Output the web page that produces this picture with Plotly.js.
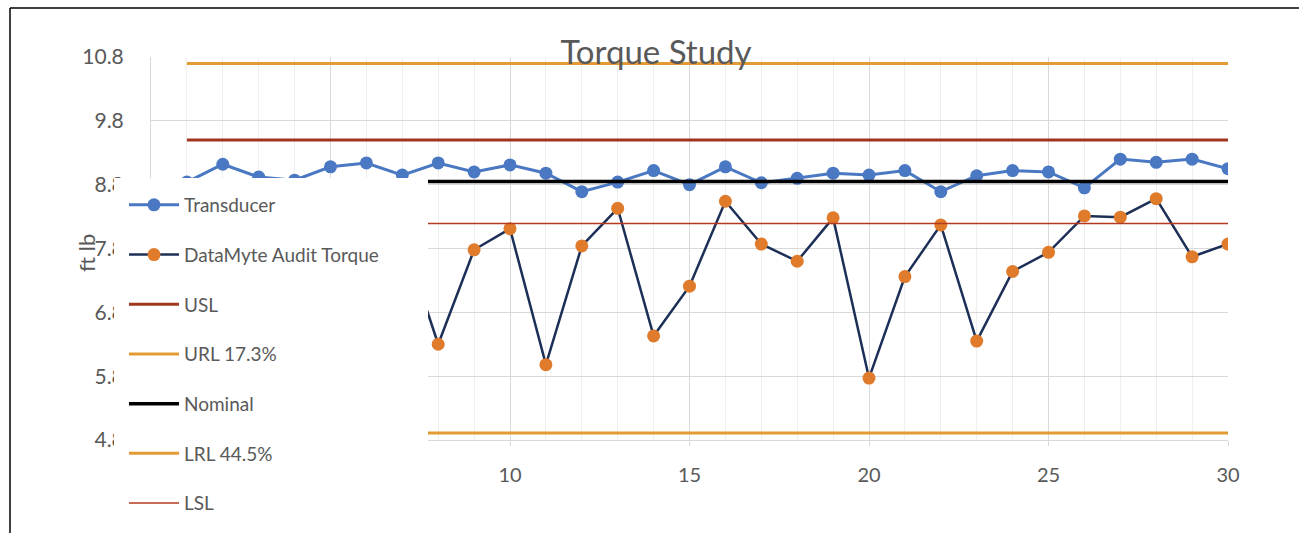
<!DOCTYPE html>
<html>
<head>
<meta charset="utf-8">
<script src="https://cdn.plot.ly/plotly-3.0.1.min.js"></script>
<style>
  html, body { margin: 0; padding: 0; background: #ffffff; }
  #chart { width: 1299px; height: 533px; }
</style>
</head>
<body>
<div id="chart"></div>
<script>
// ---- data ----
const samples = [1,2,3,4,5,6,7,8,9,10,11,12,13,14,15,16,17,18,19,20,21,22,23,24,25,26,27,28,29,30];
const transducer = [8.84,9.12,8.92,8.87,9.08,9.14,8.95,9.14,9.00,9.11,8.98,8.69,8.84,9.02,8.80,9.08,8.83,8.90,8.98,8.95,9.02,8.69,8.94,9.02,9.00,8.75,9.20,9.15,9.20,9.05];
const datamyte = [null,null,null,null,null,null,8.00,6.30,7.78,8.11,5.98,7.84,8.43,6.43,7.21,8.54,7.87,7.60,8.28,5.77,7.36,8.17,6.35,7.44,7.74,8.31,8.29,8.58,7.67,7.87];
const limitNames  = ["USL", "URL 17.3%", "Nominal", "LRL 44.5%", "LSL"];
const limitValues = [9.50, 10.70, 8.85, 4.91, 8.19];
const limitColors = ["#A0371D", "#E39B36", "#000000", "#E39B36", "#B4391F"];
const limitWidths = [3, 3, 3.5, 3, 1.5];
const yTickVals = [4.8, 5.8, 6.8, 7.8, 8.8, 9.8, 10.8];
const xTickVals = [0, 5, 10, 15, 20, 25, 30];
const yTitle = "ft lb";

const FONT = "Lato, 'Open Sans', 'Liberation Sans', sans-serif";
const GREY = "#595959";

const traces = [
  {
    name: "Transducer", x: samples, y: transducer, type: "scatter", mode: "lines+markers",
    line: { color: "#4A78C2", width: 3 },
    marker: { color: "#4A78C2", size: 13 },
    legendgroup: "g1"
  },
  {
    name: "DataMyte Audit Torque", x: samples, y: datamyte, type: "scatter", mode: "lines+markers",
    line: { color: "#1C2F57", width: 2.5 },
    marker: { color: "#E07B2C", size: 13 },
    legendgroup: "g2"
  }
];
limitNames.forEach((n, i) => {
  traces.push({
    name: n, x: samples, y: samples.map(() => limitValues[i]),
    type: "scatter", mode: "lines",
    line: { color: limitColors[i], width: limitWidths[i] },
    legendgroup: "g" + (i + 3)
  });
});

const L = 151, R = 71, T = 57, B = 93, W = 1299, H = 533;
const pw = W - L - R, ph = H - T - B;
const px = v => (v - L) / pw;
const py = v => (H - B - v) / ph;

const layout = {
  width: W, height: H,
  margin: { l: L, r: R, t: T, b: B, pad: 0, autoexpand: false },
  paper_bgcolor: "#ffffff",
  plot_bgcolor: "#ffffff",
  font: { family: FONT, color: GREY, size: 19 },
  title: {
    text: "Torque Study",
    font: { family: FONT, size: 33, color: GREY },
    xref: "container", x: 656 / W, xanchor: "center",
    yref: "container", y: 1 - 52 / H, yanchor: "middle"
  },
  xaxis: {
    range: [0, 30], automargin: false,
    tickvals: xTickVals,
    ticktext: xTickVals.map(String),
    showgrid: true, gridcolor: "#D9D9D9", gridwidth: 1,
    minor: { dtick: 1, showgrid: true, gridcolor: "#EFEFEF", gridwidth: 1 },
    showline: true, linecolor: "#D9D9D9", linewidth: 1,
    ticks: "outside", ticklen: 5, tickcolor: "#D9D9D9",
    ticklabelstandoff: 12,
    tickfont: { family: FONT, size: 20, color: GREY },
    zeroline: false, fixedrange: true
  },
  yaxis: {
    range: [4.8, 10.8], automargin: false,
    tickvals: yTickVals,
    ticktext: yTickVals.map(v => v.toFixed(1)),
    showgrid: true, gridcolor: "#D9D9D9", gridwidth: 1,
    showline: true, linecolor: "#D9D9D9", linewidth: 1,
    ticks: "", ticklabelstandoff: 22,
    tickfont: { family: FONT, size: 21, color: GREY },
    zeroline: false, fixedrange: true
  },
  annotations: [
    { text: yTitle, xref: "paper", yref: "paper",
      x: px(86), y: py(253), xanchor: "center", yanchor: "middle",
      textangle: -90, showarrow: false,
      font: { family: FONT, size: 22, color: GREY } }
  ],
  showlegend: true,
  legend: {
    xref: "container", yref: "container",
    x: 124 / W, y: 1 - 186 / H, xanchor: "left", yanchor: "top",
    bgcolor: "rgba(0,0,0,0)", borderwidth: 0,
    font: { family: FONT, size: 19, color: GREY },
    tracegroupgap: 22, itemwidth: 50, maxheight: 460,
    traceorder: "grouped"
  },
  shapes: [
    // legend panel (opaque, covers the plot like the original)
    { type: "rect", xref: "paper", yref: "paper", layer: "above",
      x0: px(114), x1: px(428), y0: py(540), y1: py(178),
      fillcolor: "#ffffff", line: { width: 0 } },
    // chart border (top and left)
    { type: "line", xref: "paper", yref: "paper", layer: "above",
      x0: px(10), x1: px(1300), y0: py(8), y1: py(8), line: { color: "#000000", width: 1.5 } },
    { type: "line", xref: "paper", yref: "paper", layer: "above",
      x0: px(10), x1: px(10), y0: py(8), y1: py(540), line: { color: "#000000", width: 1.5 } }
  ]
};

Plotly.newPlot("chart", traces, layout, { displayModeBar: false, staticPlot: true });
</script>
</body>
</html>
